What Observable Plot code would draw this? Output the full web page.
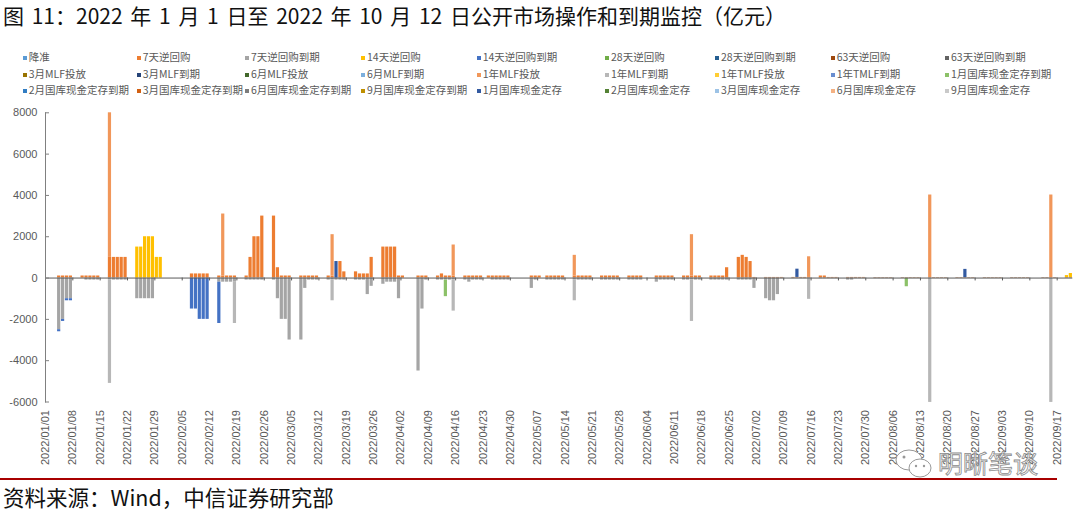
<!DOCTYPE html>
<html><head><meta charset="utf-8">
<script src="https://cdn.jsdelivr.net/npm/d3@7"></script>
<script src="https://cdn.jsdelivr.net/npm/@observablehq/plot@0.6"></script>
<style>
body{margin:0;background:#fff;}
#wrap{position:relative;width:1080px;height:513px;overflow:hidden;font-family:"Noto Sans CJK SC","Noto Sans",sans-serif;background:#fff;}
#title{position:absolute;left:3px;top:1px;font-size:21px;line-height:28px;word-spacing:3px;color:#111;white-space:nowrap;}
.lg{position:absolute;font-size:10.5px;color:#595959;white-space:nowrap;line-height:12px;}
.lg i{display:inline-block;width:4px;height:4px;margin-right:2px;vertical-align:1px;}
#chart{position:absolute;left:0;top:100px;}
#redline{position:absolute;left:0;top:478px;width:1057px;height:2px;background:#A80000;}
#source{position:absolute;left:3px;top:482px;font-size:21.5px;line-height:30px;color:#111;white-space:nowrap;}
#wm{position:absolute;left:938px;top:446px;font-size:25px;line-height:32px;color:rgba(255,255,255,0.6);-webkit-text-stroke:0.8px #8a8a8a;white-space:nowrap;}
#wmicon{position:absolute;left:893px;top:446px;}
</style></head>
<body><div id="wrap">
<div id="title">图 11：2022 年 1 月 1 日至 2022 年 10 月 12 日公开市场操作和到期监控（亿元）</div>
<div id="legend"></div>
<div id="chart"></div>
<div id="redline"></div>
<div id="source">资料来源：Wind，中信证券研究部</div>
<svg id="wmicon" width="44" height="36"><ellipse cx="16" cy="14" rx="13" ry="10" fill="#fff" stroke="#999" stroke-width="1"/><ellipse cx="27" cy="22" rx="11" ry="9" fill="#fff" stroke="#999" stroke-width="1"/><circle cx="11" cy="11" r="1.5" fill="#999"/><circle cx="23" cy="20" r="1.2" fill="#999"/><circle cx="31" cy="20" r="1.2" fill="#999"/></svg>
<div id="wm">明晰笔谈</div>
</div>
<script>
// ---- series (legend order) and colours ----
const seriesNames = ["降准","7天逆回购","7天逆回购到期","14天逆回购","14天逆回购到期","28天逆回购","28天逆回购到期","63天逆回购","63天逆回购到期",
"3月MLF投放","3月MLF到期","6月MLF投放","6月MLF到期","1年MLF投放","1年MLF到期","1年TMLF投放","1年TMLF到期","1月国库现金定存到期",
"2月国库现金定存到期","3月国库现金定存到期","6月国库现金定存到期","9月国库现金定存到期","1月国库现金定存","2月国库现金定存","3月国库现金定存","6月国库现金定存","9月国库现金定存"];
const seriesColors = ["#5B9BD5","#ED7D31","#A5A5A5","#FFC000","#4472C4","#70AD47","#255E91","#9E480E","#636363",
"#997300","#264478","#43682B","#7CAFDD","#F1975A","#B7B7B7","#FFCD33","#698ED0","#8CC168",
"#327DC2","#D26012","#7C7C7C","#BF9000","#335AA1","#548235","#9DC3E6","#F4B183","#C9C9C9"];

// ---- values (亿元), [MMDD, value] ----
const rr7 = [["0104",100],["0105",100],["0106",100],["0107",100],
["0110",100],["0111",100],["0112",100],["0113",100],["0114",100],
["0117",1000],["0118",1000],["0119",1000],["0120",1000],["0121",1000],
["0207",200],["0208",200],["0209",200],["0210",200],["0211",200],
["0214",100],["0215",100],["0216",100],["0217",100],["0218",100],
["0221",100],["0222",1000],["0223",2000],["0224",2000],["0225",3000],
["0228",3000],["0301",500],["0302",100],["0303",100],["0304",100],
["0307",100],["0308",100],["0309",100],["0310",100],["0311",100],
["0314",100],["0315",100],["0317",800],["0318",300],
["0321",300],["0322",200],["0323",200],["0324",200],["0325",1000],
["0328",1500],["0329",1500],["0330",1500],["0331",1500],["0401",100],["0402",100],
["0406",100],["0407",100],["0408",100],
["0411",100],["0412",200],["0413",100],["0414",100],["0415",100],
["0418",100],["0419",100],["0420",100],["0421",100],["0422",100],
["0424",100],["0425",100],["0426",100],["0427",100],["0428",100],["0429",100],
["0505",100],["0506",100],["0507",100],
["0509",100],["0510",100],["0511",100],["0512",100],["0513",100],
["0516",100],["0517",100],["0518",100],["0519",100],["0520",100],
["0523",100],["0524",100],["0525",100],["0526",100],["0527",100],
["0530",100],["0531",100],["0601",100],["0602",100],
["0606",100],["0607",100],["0608",100],["0609",100],["0610",100],
["0613",100],["0614",100],["0615",100],["0616",100],["0617",100],
["0620",100],["0621",100],["0622",100],["0623",100],["0624",500],
["0627",1000],["0628",1100],["0629",1000],["0630",800],["0701",30],
["0704",30],["0705",30],["0706",30],["0707",30],["0708",30],
["0711",30],["0712",30],["0713",30],["0714",30],["0715",30],
["0718",100],["0719",100],["0720",30],["0721",30],["0722",30],
["0725",30],["0726",30],["0727",30],["0728",30],["0729",30],
["0801",20],["0802",20],["0803",20],["0804",20],["0805",20],
["0808",20],["0809",20],["0810",20],["0811",20],["0812",20],
["0815",20],["0816",20],["0817",20],["0818",20],["0819",20],
["0822",20],["0823",20],["0824",20],["0825",20],["0826",20],
["0829",20],["0830",20],["0831",20],["0901",20],["0902",20],
["0905",20],["0906",20],["0907",20],["0908",20],["0909",20],
["0913",20],["0914",20],["0915",20],["0916",20],["0919",20],["0920",20]];

const rr7Due = [["0104",-2500],["0105",-2000],["0106",-1000],["0107",-1000],
["0111",-100],["0112",-100],["0113",-100],["0114",-100],
["0117",-100],["0118",-100],["0119",-100],["0120",-100],["0121",-100],
["0124",-1000],["0125",-1000],["0126",-1000],["0127",-1000],["0128",-1000],
["0214",-200],["0215",-200],["0216",-200],["0217",-200],["0218",-200],
["0221",-100],["0222",-100],["0223",-100],["0224",-100],["0225",-100],
["0228",-100],["0301",-1000],["0302",-2000],["0303",-2000],["0304",-3000],
["0307",-3000],["0308",-500],["0309",-100],["0310",-100],["0311",-100],
["0314",-100],["0315",-100],["0316",-100],["0317",-100],["0318",-100],
["0321",-100],["0322",-100],["0323",-100],["0324",-800],["0325",-400],
["0328",-300],["0329",-200],["0330",-200],["0331",-200],["0401",-1000],
["0406",-4500],["0407",-1500],["0408",-100],
["0411",-100],["0412",-100],["0413",-100],["0414",-100],["0415",-100],
["0418",-100],["0419",-200],["0420",-100],["0421",-100],["0422",-100],
["0425",-100],["0426",-100],["0427",-100],["0428",-100],["0429",-100],
["0505",-500],["0506",-100],
["0509",-100],["0510",-100],["0511",-100],["0512",-100],["0513",-100],
["0516",-100],["0517",-100],["0518",-100],["0519",-100],["0520",-100],
["0523",-100],["0524",-100],["0525",-100],["0526",-100],["0527",-100],
["0530",-100],["0531",-100],["0601",-100],["0602",-100],
["0606",-200],["0607",-100],["0608",-100],["0609",-100],["0610",-100],
["0613",-100],["0614",-100],["0615",-100],["0616",-100],["0617",-100],
["0620",-100],["0621",-100],["0622",-100],["0623",-100],["0624",-100],
["0627",-100],["0628",-100],["0629",-100],["0630",-100],["0701",-500],
["0704",-1000],["0705",-1100],["0706",-1100],["0707",-800],["0708",-30],
["0711",-30],["0712",-30],["0713",-30],["0714",-30],["0715",-30],
["0718",-30],["0719",-30],["0720",-30],["0721",-30],["0722",-30],
["0725",-100],["0726",-100],["0727",-30],["0728",-30],["0729",-30],
["0801",-30],["0802",-30],["0803",-30],["0804",-30],["0805",-30],
["0808",-20],["0809",-20],["0810",-20],["0811",-20],["0812",-20],
["0815",-20],["0816",-20],["0817",-20],["0818",-20],["0819",-20],
["0822",-20],["0823",-20],["0824",-20],["0825",-20],["0826",-20],
["0829",-20],["0830",-20],["0831",-20],["0901",-20],["0902",-20],
["0905",-20],["0906",-20],["0907",-20],["0908",-20],["0909",-20],
["0913",-20],["0914",-20],["0915",-20],["0916",-20],["0919",-20],["0920",-20]];

const rr14 = [["0124",1500],["0125",1500],["0126",2000],["0127",2000],["0128",2000],["0129",1000],["0130",1000],["0919",100],["0920",200]];
const rr14Due = [["0104",-100],["0105",-100],["0106",-100],["0107",-100],
["0207",-1500],["0208",-1500],["0209",-2000],["0210",-2000],["0211",-2000],["0214",-2000]];
const mlf1y = [["0117",7000],["0215",3000],["0315",2000],["0415",1500],["0516",1000],["0615",2000],["0715",1000],["0815",4000],["0915",4000]];
const mlf1yDue = [["0117",-5000],["0218",-2000],["0315",-1000],["0415",-1500],["0516",-1000],["0615",-2000],["0715",-1000],["0815",-6000],["0915",-6000]];
const deposit1m = [["0316",800],["0712",400],["0824",400]];
const deposit1mDue = [["0413",-800],["0809",-400]];

const seriesData = {
  "7天逆回购": rr7, "7天逆回购到期": rr7Due, "14天逆回购": rr14, "14天逆回购到期": rr14Due,
  "1年MLF投放": mlf1y, "1年MLF到期": mlf1yDue, "1月国库现金定存到期": deposit1mDue, "1月国库现金定存": deposit1m
};

// ---- axis ticks ----
const yTicks = [-6000,-4000,-2000,0,2000,4000,6000,8000];
const xTickLabels = ["2022/01/01","2022/01/08","2022/01/15","2022/01/22","2022/01/29","2022/02/05","2022/02/12","2022/02/19","2022/02/26",
"2022/03/05","2022/03/12","2022/03/19","2022/03/26","2022/04/02","2022/04/09","2022/04/16","2022/04/23","2022/04/30",
"2022/05/07","2022/05/14","2022/05/21","2022/05/28","2022/06/04","2022/06/11","2022/06/18","2022/06/25",
"2022/07/02","2022/07/09","2022/07/16","2022/07/23","2022/07/30","2022/08/06","2022/08/13","2022/08/20","2022/08/27",
"2022/09/03","2022/09/10","2022/09/17"];

// ---- build table ----
const rows = [];
for (const name of seriesNames) {
  const arr = seriesData[name];
  if (!arr) continue;
  for (const [md, v] of arr) rows.push({date: `2022/${md.slice(0,2)}/${md.slice(2)}`, series: name, value: v});
}
const fmt = d3.timeFormat("%Y/%m/%d");
const days = d3.timeDay.range(new Date(2022,0,1), new Date(2022,8,21)).map(fmt);

// ---- legend ----
const colX = [22.7,136.7,245,361,476.7,605,715,830.7,945];
const rowY = [57,73.5,90];
const lg = document.getElementById("legend");
seriesNames.forEach((n,i) => {
  const d = document.createElement("div");
  d.className = "lg";
  d.style.left = colX[i%9] + "px";
  d.style.top = (rowY[Math.floor(i/9)] - 6) + "px";
  d.innerHTML = `<i style="background:${seriesColors[i]}"></i>${n}`;
  lg.appendChild(d);
});

// ---- chart ----
const W = 1080, ML = 45, MR = 7.7;
const bw = (W - ML - MR) / days.length;
const chart = Plot.plot({
  width: W, height: 375,
  marginLeft: ML, marginRight: MR, marginTop: 12.3, marginBottom: 73.5,
  style: {fontFamily: "'Liberation Sans', Arial, sans-serif", fontSize: "11px", color: "#595959", background: "transparent"},
  x: {type: "band", domain: days, padding: 0, round: false, axis: null},
  y: {domain: [-6000, 8000], axis: null},
  color: {domain: seriesNames, range: seriesColors},
  marks: [
    Plot.barY(rows, {x: "date", y: "value", fill: "series", insetLeft: 0.35, insetRight: 0.35}),
    Plot.ruleY([0], {stroke: "#595959", strokeWidth: 1}),
    Plot.ruleX(xTickLabels, {x: d => d, y1: 0, y2: -140, dx: -bw/2, stroke: "#595959"}),
    Plot.frame({anchor: "left", stroke: "#808080"}),
    Plot.axisY({ticks: yTicks, tickSize: 4, dx: 4, tickFormat: () => "", stroke: "#808080", label: null}),
    Plot.axisY({ticks: yTicks, tickSize: 0, tickPadding: 8, tickFormat: d => String(d), fill: "#595959", label: null}),
    Plot.axisX({ticks: xTickLabels, tickRotate: -90, tickSize: 0, tickPadding: 8, dx: -bw/2, fill: "#595959", label: null})
  ]
});
document.getElementById("chart").appendChild(chart);
</script>
</body></html>
